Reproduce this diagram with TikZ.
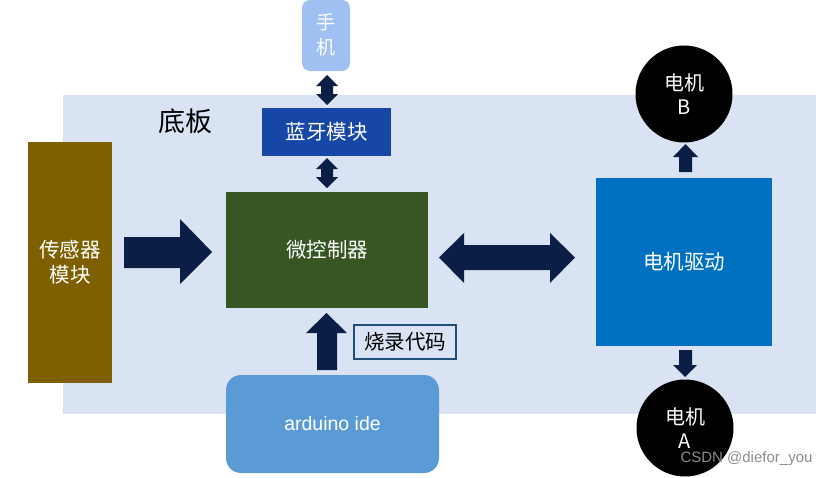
\documentclass[tikz,border=0pt]{standalone}
\usepackage{fontspec}
\setmainfont{Liberation Sans}
\newfontfamily\cjk{Noto Sans CJK SC}
\definecolor{boardc}{HTML}{DAE3F3}
\definecolor{sensorc}{HTML}{7F6000}
\definecolor{mcuc}{HTML}{375623}
\definecolor{drvc}{HTML}{0070C0}
\definecolor{btc}{HTML}{1747A6}
\definecolor{phonec}{HTML}{A0C0F2}
\definecolor{idec}{HTML}{5B9BD5}
\definecolor{arrc}{HTML}{0B1E45}
\definecolor{labc}{HTML}{1F4E79}
\tikzset{
  blk/.style={inner sep=0pt, text=white, align=center, font=\cjk\fontsize{20.5}{25}\selectfont},
  motor/.style={circle, fill=black, minimum size=97pt, inner sep=0pt, text=white, align=center, font=\cjk\fontsize{20}{24}\selectfont},
  arr/.style={fill=arrc}
}
\begin{document}
\begin{tikzpicture}[x=1pt,y=-1pt]
\useasboundingbox (0,0) rectangle (830,477);
% board
\fill[boardc] (63,95) rectangle (816,414);
\node[font=\cjk\fontsize{27}{30}\selectfont, anchor=center] (board) at (185,121) {底板};
% boxes
\fill[sensorc] (28,142) rectangle (112,383);
\node[blk] (sensor) at (70,262) {传感器\\模块};
\fill[mcuc] (226,192) rectangle (428,308);
\node[blk] (mcu) at (327,250) {微控制器};
\fill[drvc] (596,178) rectangle (772,346);
\node[blk] (drv) at (684,262) {电机驱动};
\fill[btc] (262,108) rectangle (391,156);
\node[blk] (bt) at (326.5,132) {蓝牙模块};
\fill[phonec, rounded corners=8pt] (302,0) rectangle (350,71);
\node[blk, font=\cjk\fontsize{19}{25}\selectfont] (phone) at (326,35) {手\\机};
\fill[idec, rounded corners=15pt] (226,375) rectangle (439,473);
\node[blk, font=\fontsize{19.5}{24}\selectfont] (ide) at (332.5,424) {arduino ide};
\node[motor] (mb) at (684,94) {电机\\B};
\node[motor] (ma) at (685,428) {电机\\A};
% label
\node[draw=labc, line width=1.5pt, minimum width=102pt, minimum height=34pt, inner sep=0pt, font=\cjk\fontsize{20.5}{24}\selectfont] (burn) at (405,342) {烧录代码};
% arrows
% sensor -> mcu
\fill[arr] (124,237) -- (180,237) -- (180,219) -- (212,252) -- (180,284) -- (180,268) -- (124,268) -- cycle;
% mcu <-> drv
\fill[arr] (439,257.5) -- (464,233) -- (464,245) -- (550,245) -- (550,233) -- (575,257.5) -- (550,283) -- (550,270) -- (464,270) -- (464,283) -- cycle;
% phone <-> bt
\fill[arr] (327,75) -- (338,86) -- (333,86) -- (333,94) -- (338,94) -- (327,105) -- (316,94) -- (321,94) -- (321,86) -- (316,86) -- cycle;
% bt <-> mcu
\fill[arr] (327,158) -- (338,169) -- (333,169) -- (333,177) -- (338,177) -- (327,188) -- (316,177) -- (321,177) -- (321,169) -- (316,169) -- cycle;
% ide -> mcu
\fill[arr] (317,370) -- (317,333) -- (306,333) -- (326.5,313) -- (347,333) -- (337,333) -- (337,370) -- cycle;
% drv -> B
\fill[arr] (679,172) -- (679,157) -- (673,157) -- (685.5,144) -- (698,157) -- (692,157) -- (692,172) -- cycle;
% drv -> A
\fill[arr] (679,350) -- (692,350) -- (692,365) -- (697,365) -- (685,377) -- (673,365) -- (679,365) -- cycle;
% watermark
\node[text=black!45, font=\fontsize{15}{17}\selectfont, anchor=east] (wm) at (816,459) {CSDN @diefor\_you};
\end{tikzpicture}
\end{document}
